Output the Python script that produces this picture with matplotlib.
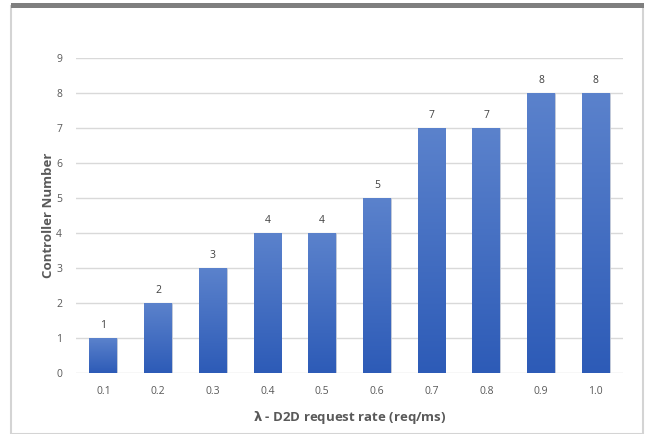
import numpy as np
import matplotlib.pyplot as plt
from matplotlib.patches import Rectangle

plt.rcParams['font.family'] = ['Open Sans', 'DejaVu Sans']

rates = ['0.1', '0.2', '0.3', '0.4', '0.5', '0.6', '0.7', '0.8', '0.9', '1.0']
controllers = [1, 2, 3, 4, 4, 5, 7, 7, 8, 8]

fig = plt.figure(figsize=(6.51, 4.34), dpi=100)

# outer frame with dark top edge
fig.add_artist(Rectangle((11 / 651, 0), 632 / 651, 1 - 6 / 434, transform=fig.transFigure,
                         facecolor='white', edgecolor='#d4d4d4', lw=1.5, zorder=-2))
fig.add_artist(Rectangle((11 / 651, 1 - 8 / 434), 633 / 651, 5 / 434, transform=fig.transFigure,
                         facecolor='#7f7f7f', edgecolor='none', zorder=-1))

ax = fig.add_axes([76 / 651, 1 - 373 / 434, 547 / 651, 315 / 434])
ax.set_facecolor('none')

x = np.arange(len(rates))
width = 0.51
bars = ax.bar(x, controllers, width, color='#4472c4', edgecolor='#c8cdd8', lw=0.6, zorder=2)

# vertical gradient fill on each bar
grad = np.linspace(0, 1, 256).reshape(-1, 1)
cmap = plt.matplotlib.colors.LinearSegmentedColormap.from_list('bar', ['#2d5bb7', '#5b82cc'])
for b in bars:
    bx, by = b.get_x(), b.get_y()
    bw, bh = b.get_width(), b.get_height()
    im = ax.imshow(grad, cmap=cmap, extent=[bx, bx + bw, by, by + bh], origin='lower',
                   aspect='auto', zorder=3)
    im.set_clip_path(b)

for xi, v in zip(x, controllers):
    ax.text(xi, v + 0.2, str(v), ha='center', va='bottom', fontsize=7.5, color='#404040')

ax.set_xlim(-0.5, len(rates) - 0.5)
ax.set_ylim(0, 9)
ax.set_yticks(range(0, 10))
ax.set_xticks(x)
ax.set_xticklabels(rates)
ax.grid(axis='y', color='#d9d9d9', lw=1, zorder=0)
ax.set_axisbelow(True)
for s in ax.spines.values():
    s.set_visible(False)
ax.tick_params(length=0, labelsize=7.5, labelcolor='#595959')
ax.tick_params(axis='x', pad=9)
ax.tick_params(axis='y', pad=10)

ax.set_ylabel('Controller Number', fontsize=9.5, fontweight='bold', color='#595959', labelpad=1)
ax.set_xlabel(r'$\boldsymbol{\lambda}$ - D2D request rate (req/ms)', fontsize=9.5,
              fontweight='bold', color='#595959', labelpad=9)

fig.savefig('out.png', dpi=100)
